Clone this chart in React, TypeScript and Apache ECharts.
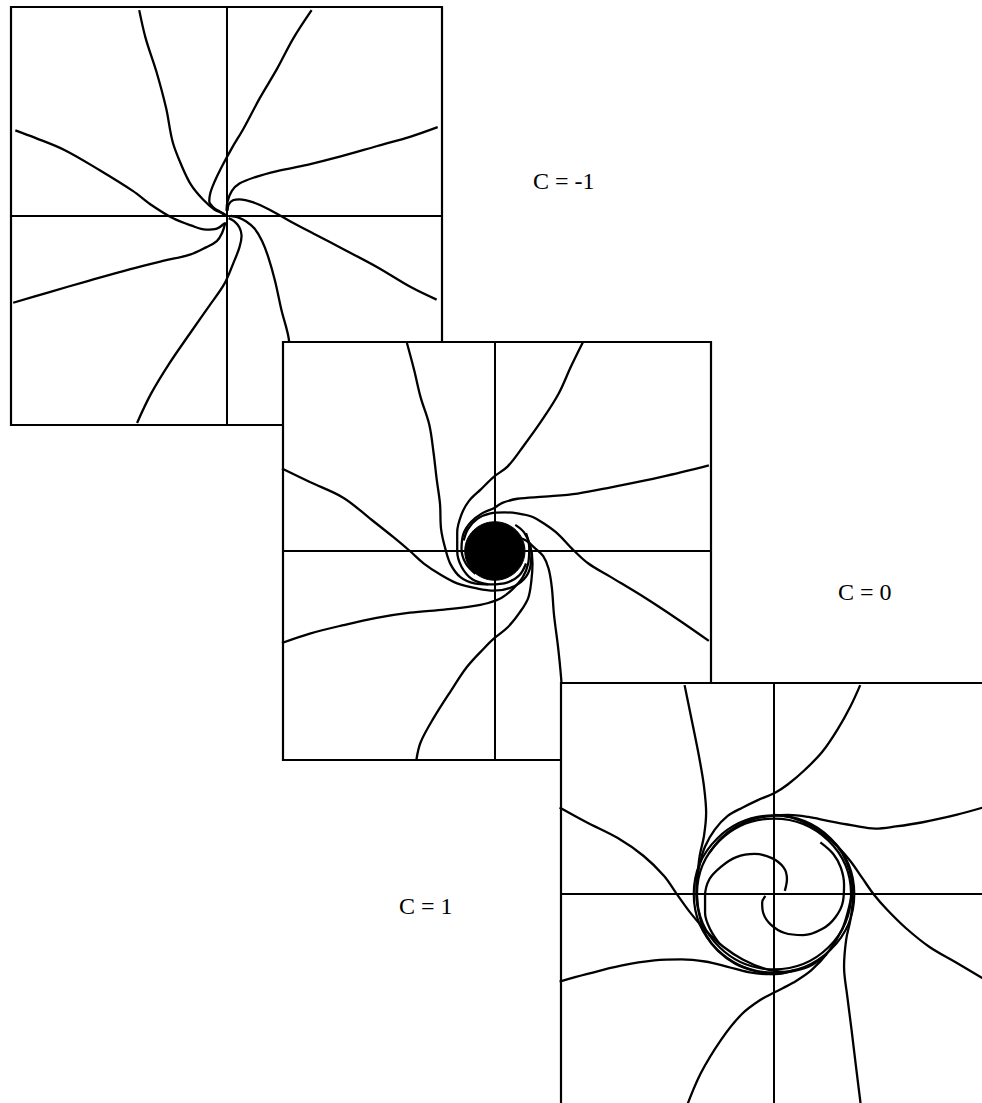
import React, { useEffect, useRef } from "react";
import * as echarts from "echarts";

// Phase-plane trajectories (x, y) for the three parameter values.

// C = -1 : every orbit winds straight into the origin
const cMinusA = [[-0.81, 1.97], [-0.75, 1.7], [-0.65, 1.38], [-0.56, 1.03], [-0.5, 0.71], [-0.42, 0.49], [-0.33, 0.3], [-0.22, 0.16], [-0.11, 0.06], [-0.02, 0.02], [0, 0]];
const cMinusB = [[0.79, 1.97], [0.62, 1.7], [0.47, 1.41], [0.31, 1.13], [0.16, 0.84], [0.05, 0.65], [-0.05, 0.46], [-0.11, 0.33], [-0.15, 0.22], [-0.16, 0.14], [-0.12, 0.08], [-0.06, 0.04], [-0.02, 0.01]];
const cMinusC = [[1.96, 0.85], [1.71, 0.76], [1.4, 0.67], [1.06, 0.57], [0.75, 0.49], [0.47, 0.43], [0.26, 0.37], [0.12, 0.31], [0.05, 0.24], [0.01, 0.14], [0, 0.05]];
const cMinusD = [[1.95, -0.8], [1.71, -0.68], [1.4, -0.49], [1.09, -0.32], [0.81, -0.17], [0.59, -0.05], [0.4, 0.06], [0.25, 0.13], [0.12, 0.16], [0.06, 0.15], [0.02, 0.11], [0.01, 0.05]];
const cMinusE = [[0.65, -2.0], [0.58, -1.19], [0.51, -0.9], [0.45, -0.62], [0.39, -0.4], [0.33, -0.24], [0.26, -0.12], [0.18, -0.05], [0.1, -0.01], [0.04, 0]];
const cMinusF = [[-0.83, -1.98], [-0.7, -1.7], [-0.53, -1.41], [-0.33, -1.11], [-0.16, -0.86], [-0.02, -0.65], [0.06, -0.46], [0.12, -0.3], [0.14, -0.19], [0.12, -0.11], [0.07, -0.05], [0.02, -0.02]];
const cMinusG = [[-1.98, -0.83], [-1.65, -0.73], [-1.28, -0.62], [-0.9, -0.51], [-0.59, -0.43], [-0.34, -0.37], [-0.19, -0.3], [-0.09, -0.24], [-0.04, -0.16], [-0.01, -0.06]];
const cMinusH = [[-1.96, 0.82], [-1.78, 0.75], [-1.5, 0.63], [-1.18, 0.44], [-0.87, 0.24], [-0.69, 0.1], [-0.5, -0.02], [-0.33, -0.09], [-0.19, -0.13], [-0.09, -0.12], [-0.02, -0.07]];

// C = 0 : orbits wind slowly into a dense core
const cZeroA = [[-0.82, 2.0], [-0.75, 1.73], [-0.69, 1.47], [-0.61, 1.21], [-0.57, 0.94], [-0.54, 0.68], [-0.51, 0.45], [-0.5, 0.21], [-0.46, 0.02], [-0.41, -0.13], [-0.32, -0.25], [-0.19, -0.31], [-0.04, -0.32], [0.12, -0.3], [0.23, -0.23], [0.29, -0.12]];
const cZeroB = [[0.82, 2.0], [0.71, 1.77], [0.59, 1.5], [0.43, 1.24], [0.27, 1.01], [0.12, 0.81], [-0.01, 0.71], [-0.13, 0.59], [-0.24, 0.48], [-0.31, 0.35], [-0.35, 0.18], [-0.35, 0], [-0.31, -0.15], [-0.21, -0.27], [-0.06, -0.32]];
const cZeroC = [[1.99, 0.82], [1.55, 0.71], [1.08, 0.61], [0.77, 0.55], [0.46, 0.52], [0.21, 0.5], [0.07, 0.46], [-0.01, 0.41], [-0.12, 0.36], [-0.22, 0.28], [-0.29, 0.17], [-0.31, 0.02], [-0.27, -0.12], [-0.18, -0.22]];
const cZeroD = [[1.99, -0.86], [1.71, -0.66], [1.4, -0.45], [1.08, -0.25], [0.87, -0.12], [0.71, 0.03], [0.59, 0.16], [0.46, 0.26], [0.34, 0.33], [0.21, 0.36], [0.09, 0.37], [-0.04, 0.36], [-0.16, 0.31], [-0.25, 0.21], [-0.29, 0.1]];
const cZeroE = [[0.65, -2.0], [0.62, -1.27], [0.59, -0.94], [0.55, -0.61], [0.53, -0.35], [0.5, -0.17], [0.45, -0.05], [0.37, 0.03], [0.29, 0.1], [0.19, 0.14]];
const cZeroF = [[-0.73, -2.0], [-0.69, -1.83], [-0.57, -1.6], [-0.41, -1.34], [-0.26, -1.11], [-0.1, -0.93], [0, -0.83], [0.12, -0.73], [0.23, -0.59], [0.31, -0.45], [0.34, -0.28], [0.35, -0.12], [0.33, 0.05], [0.27, 0.18], [0.19, 0.25]];
const cZeroG = [[-1.98, -0.88], [-1.72, -0.79], [-1.41, -0.71], [-1.1, -0.64], [-0.79, -0.59], [-0.47, -0.56], [-0.22, -0.53], [-0.07, -0.5], [0.06, -0.45], [0.17, -0.36], [0.26, -0.25], [0.31, -0.12], [0.32, 0.03], [0.29, 0.17]];
const cZeroH = [[-1.98, 0.79], [-1.72, 0.66], [-1.41, 0.51], [-1.16, 0.31], [-0.94, 0.13], [-0.79, 0], [-0.66, -0.12], [-0.5, -0.23], [-0.35, -0.31], [-0.16, -0.36], [-0.01, -0.38], [0.15, -0.35], [0.27, -0.27], [0.33, -0.15], [0.34, 0]];
const cZeroCoreRadius = 0.28;

// C = 1 : orbits settle on a limit cycle, from outside and from inside
const cOneA = [[-0.83, 1.98], [-0.79, 1.78], [-0.74, 1.53], [-0.69, 1.27], [-0.65, 1.02], [-0.63, 0.77], [-0.65, 0.55], [-0.69, 0.36], [-0.71, 0.17], [-0.72, -0.02], [-0.69, -0.21], [-0.63, -0.39], [-0.52, -0.54], [-0.36, -0.66], [-0.18, -0.73], [0.01, -0.76], [0.2, -0.72]];
const cOneB = [[0.8, 1.98], [0.71, 1.78], [0.59, 1.56], [0.45, 1.35], [0.29, 1.18], [0.13, 1.04], [0.01, 0.96], [-0.15, 0.89], [-0.29, 0.82], [-0.43, 0.74], [-0.55, 0.61], [-0.64, 0.45], [-0.69, 0.28], [-0.72, 0.09], [-0.71, -0.1]];
const cOneC = [[1.94, 0.82], [1.69, 0.75], [1.38, 0.68], [1.13, 0.64], [0.94, 0.62], [0.73, 0.65], [0.51, 0.69], [0.32, 0.73], [0.13, 0.75], [-0.02, 0.74], [-0.19, 0.71], [-0.35, 0.64], [-0.49, 0.53], [-0.6, 0.39]];
const cOneD = [[1.94, -0.8], [1.69, -0.65], [1.44, -0.5], [1.22, -0.32], [1.05, -0.15], [0.93, -0.01], [0.82, 0.15], [0.71, 0.31], [0.6, 0.44], [0.48, 0.55], [0.34, 0.65], [0.18, 0.72], [0.01, 0.75]];
const cOneE = [[0.81, -2.04], [0.76, -1.63], [0.72, -1.29], [0.68, -0.97], [0.65, -0.69], [0.67, -0.43], [0.71, -0.24], [0.73, -0.05], [0.72, 0.14], [0.67, 0.31], [0.59, 0.45], [0.47, 0.56]];
const cOneF = [[-0.82, -2.04], [-0.68, -1.7], [-0.49, -1.38], [-0.3, -1.14], [-0.12, -1.0], [0.01, -0.93], [0.18, -0.84], [0.35, -0.72], [0.51, -0.54], [0.63, -0.34], [0.69, -0.15], [0.73, 0.04]];
const cOneG = [[-1.99, -0.83], [-1.74, -0.76], [-1.42, -0.68], [-1.11, -0.63], [-0.86, -0.62], [-0.64, -0.64], [-0.43, -0.69], [-0.24, -0.74], [-0.05, -0.76], [0.13, -0.74], [0.32, -0.69], [0.49, -0.57]];
const cOneH = [[-1.99, 0.82], [-1.74, 0.68], [-1.45, 0.53], [-1.21, 0.36], [-1.02, 0.17], [-0.91, 0.01], [-0.79, -0.16], [-0.64, -0.34], [-0.47, -0.5], [-0.29, -0.62], [-0.08, -0.71], [0.1, -0.74]];
const cOneInner1 = [[0.1, 0.03], [0.12, 0.14], [0.09, 0.25], [-0.02, 0.34], [-0.18, 0.38], [-0.35, 0.35], [-0.49, 0.26], [-0.6, 0.14], [-0.64, -0.02], [-0.64, -0.18], [-0.59, -0.34], [-0.5, -0.48]];
const cOneInner2 = [[-0.08, -0.02], [-0.11, -0.08], [-0.1, -0.18], [-0.03, -0.29], [0.1, -0.37], [0.27, -0.39], [0.45, -0.33], [0.57, -0.22], [0.64, -0.07], [0.65, 0.09], [0.62, 0.25], [0.55, 0.38], [0.43, 0.49]];
const cOneCycleRadii = [0.745, 0.715];

const panelLabels = ["C = -1", "C = 0", "C = 1"];

const trajectorySets = [
  [cMinusA, cMinusB, cMinusC, cMinusD, cMinusE, cMinusF, cMinusG, cMinusH],
  [cZeroA, cZeroB, cZeroC, cZeroD, cZeroE, cZeroF, cZeroG, cZeroH],
  [cOneA, cOneB, cOneC, cOneD, cOneE, cOneF, cOneG, cOneH, cOneInner1, cOneInner2],
];

// Panel boxes, stacked down and to the right; later panels cover earlier ones.
// The last one runs past the right and bottom edges of the visible page.
const panelBoxes = [
  { left: 11, top: 7, width: 431, height: 418, xMin: -2, xMax: 2, yMin: -2, yMax: 2 },
  { left: 283, top: 342, width: 428, height: 418, xMin: -1.97, xMax: 2.01, yMin: -2, yMax: 2 },
  { left: 561, top: 683, width: 445, height: 430, xMin: -1.977, xMax: 2.153, yMin: -2.076, yMax: 2 },
];

const labelSpots = [
  { x: 533, y: 181 },
  { x: 838, y: 592 },
  { x: 399, y: 906 },
];

const INK = "#000";
const CANVAS_W = 1030;
const CANVAS_H = 1130;

export default function App() {
  const ref = useRef<HTMLDivElement>(null);

  useEffect(() => {
    if (!ref.current) return;
    document.documentElement.style.overflow = "hidden";
    document.body.style.margin = "0";
    document.body.style.overflow = "hidden";
    const chart = echarts.init(ref.current, null, { renderer: "svg" });

    const grid = panelBoxes.map((p, i) => ({
      left: p.left,
      top: p.top,
      width: p.width,
      height: p.height,
      show: true,
      backgroundColor: "#fff",
      borderColor: INK,
      borderWidth: 2.2,
      outerBoundsMode: "none",
      z: i * 10,
    }));

    const axisCommon = (i: number) => ({
      type: "value" as const,
      gridIndex: i,
      z: i * 10 + 1,
      axisLine: { show: true, onZero: true, lineStyle: { color: INK, width: 2 } },
      axisTick: { show: false },
      axisLabel: { show: false },
      splitLine: { show: false },
    });

    const xAxis = panelBoxes.map((p, i) => ({ ...axisCommon(i), min: p.xMin, max: p.xMax }));
    const yAxis = panelBoxes.map((p, i) => ({ ...axisCommon(i), min: p.yMin, max: p.yMax }));

    const series: any[] = [];
    trajectorySets.forEach((set, i) => {
      set.forEach((pts) => {
        series.push({
          type: "line",
          xAxisIndex: i,
          yAxisIndex: i,
          data: pts,
          symbol: "none",
          showSymbol: false,
          smooth: 0.35,
          clip: true,
          silent: true,
          z: i * 10 + 2,
          lineStyle: { color: INK, width: 2.3 },
        });
      });
    });

    // Dense core of the C = 0 portrait
    series.push({
      type: "custom",
      xAxisIndex: 1,
      yAxisIndex: 1,
      z: 13,
      silent: true,
      data: [[0, 0, cZeroCoreRadius]],
      renderItem: (_params: any, api: any) => {
        const c = api.coord([api.value(0), api.value(1)]);
        const s = api.size([api.value(2), api.value(2)]);
        return {
          type: "ellipse",
          shape: { cx: c[0], cy: c[1], rx: s[0], ry: s[1] },
          style: { fill: INK, stroke: INK, lineWidth: 1 },
        };
      },
    });

    // Limit cycle of the C = 1 portrait
    series.push({
      type: "custom",
      xAxisIndex: 2,
      yAxisIndex: 2,
      z: 23,
      silent: true,
      data: cOneCycleRadii.map((r) => [0, 0, r]),
      renderItem: (_params: any, api: any) => {
        const c = api.coord([api.value(0), api.value(1)]);
        const s = api.size([api.value(2), api.value(2)]);
        return {
          type: "ellipse",
          shape: { cx: c[0], cy: c[1], rx: s[0], ry: s[1] },
          style: { fill: "none", stroke: INK, lineWidth: 2.2 },
        };
      },
    });

    const graphic = panelLabels.map((t, i) => ({
      type: "text",
      x: labelSpots[i].x,
      y: labelSpots[i].y,
      z: 40,
      silent: true,
      style: {
        text: t,
        fill: INK,
        font: '24px "Liberation Serif", "Times New Roman", serif',
        verticalAlign: "middle",
        textVerticalAlign: "middle",
      },
    }));

    chart.setOption({
      animation: false,
      backgroundColor: "#fff",
      grid,
      xAxis,
      yAxis,
      series,
      graphic,
    });

    return () => chart.dispose();
  }, []);

  return (
    <div
      ref={ref}
      style={{ position: "absolute", left: 0, top: 0, width: CANVAS_W, height: CANVAS_H, background: "#fff" }}
    />
  );
}
